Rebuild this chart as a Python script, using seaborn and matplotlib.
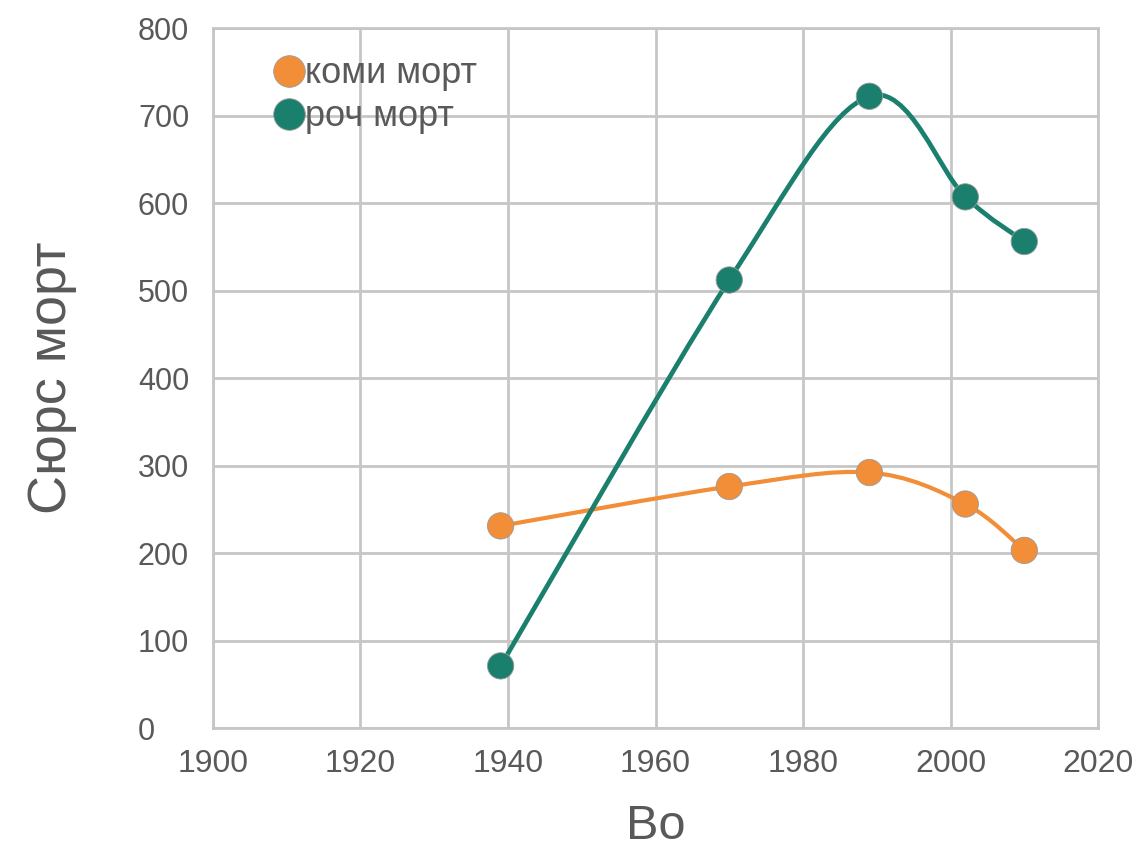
import numpy as np
import matplotlib
matplotlib.use("Agg")
import matplotlib.pyplot as plt
import pandas as pd
import seaborn as sns
from matplotlib.path import Path
from matplotlib.patches import PathPatch

# data
years = [1939, 1970, 1989, 2002, 2010]
komi_mort = [231, 276, 292, 256, 203]
roch_mort = [71, 512, 722, 607, 556]
series_names = ["коми морт", "роч морт"]
colors = ["#F28E38", "#1B7F6E"]

df = pd.DataFrame({
    "Во": years * 2,
    "Сюрс морт": komi_mort + roch_mort,
    "series": [series_names[0]] * len(years) + [series_names[1]] * len(years),
})

sns.set_theme(style="whitegrid")
plt.rcParams["font.family"] = ["Liberation Sans", "DejaVu Sans"]


def smooth_path(xs, ys):
    # Catmull-Rom segments turned into cubic Bezier curves (like a spreadsheet "smoothed line")
    pts = np.column_stack([xs, ys]).astype(float)
    p = np.vstack([pts[0], pts, pts[-1]])
    verts = [tuple(pts[0])]
    codes = [Path.MOVETO]
    for i in range(1, len(p) - 2):
        c1 = p[i] + (p[i + 1] - p[i - 1]) / 6
        c2 = p[i + 1] - (p[i + 2] - p[i]) / 6
        verts += [tuple(c1), tuple(c2), tuple(p[i + 1])]
        codes += [Path.CURVE4] * 3
    return Path(verts, codes)


fig = plt.figure(figsize=(11.45, 8.49), dpi=100)
ax = fig.add_axes([0.186, 0.1425, 0.773, 0.8245])

for name, color, vals, lw in zip(series_names, colors, [komi_mort, roch_mort], [3, 3.4]):
    ax.add_patch(PathPatch(smooth_path(years, vals), facecolor="none",
                           edgecolor=color, lw=lw, zorder=3))

sns.scatterplot(data=df, x="Во", y="Сюрс морт", hue="series", palette=colors,
                s=360, edgecolor="#9a9a9a", linewidth=0.6, zorder=4, ax=ax)

ax.set_xlim(1900, 2020)
ax.set_ylim(0, 800)
ax.set_xticks(np.arange(1900, 2021, 20))
ax.set_yticks(np.arange(0, 801, 100))
ax.grid(True, color="#c6c6c6", lw=2)
for s in ax.spines.values():
    s.set_color("#c6c6c6")
    s.set_linewidth(2)
ax.set_facecolor("white")

# y tick labels are left-aligned in the reference
ax.tick_params(axis="y", labelsize=22, labelcolor="#595959", pad=54, length=0)
for lab in ax.get_yticklabels():
    lab.set_horizontalalignment("left")
ax.tick_params(axis="x", labelsize=23, labelcolor="#595959", pad=15, length=0)

ax.set_xlabel("Во", fontsize=35, color="#595959", labelpad=18)
ax.set_ylabel("Сюрс морт", fontsize=39, color="#595959", labelpad=44)

handles, labels = ax.get_legend_handles_labels()
ax.legend(handles, labels, loc="upper left", bbox_to_anchor=(0.045, 0.98),
          frameon=False, fontsize=26, handletextpad=-0.15, labelspacing=0.22,
          handlelength=1.2, labelcolor="#595959", markerscale=1.2, borderaxespad=0)

fig.savefig("out.png", dpi=100)
